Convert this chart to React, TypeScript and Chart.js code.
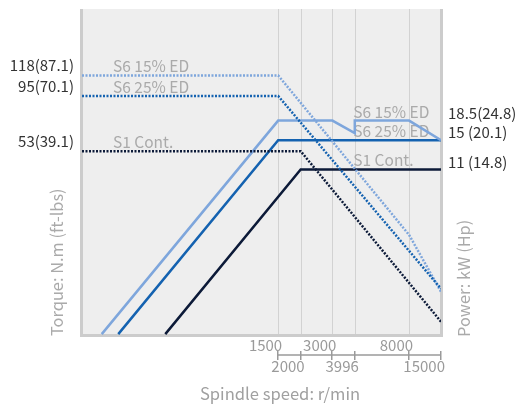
import React, { useEffect, useRef } from "react";
import { Chart, LinearScale, registerables } from "chart.js";

// ---------- data ----------
const upperSpeedTicks = [1500, 3000, 8000];
const lowerSpeedTicks = [2000, 3996, 15000];
const gridSpeeds = [1500, 2000, 3000, 3996, 8000];

const seriesNames = ["S6 15% ED", "S6 25% ED", "S1 Cont."];

// power (kW), solid lines
const s615PowerRpm = [157, 1500, 3000, 3996, 3996, 8000, 15000];
const s615PowerKw = [1.9, 18.5, 18.5, 16.2, 18.5, 18.5, 15];
const s625PowerRpm = [194, 1500, 15000];
const s625PowerKw = [1.9, 15, 15];
const s1PowerRpm = [354, 2000, 15000];
const s1PowerKw = [1.9, 11, 11];

// torque (N.m), dotted lines
const s615TorqueRpm = [122, 1500, 8000, 15000];
const s615TorqueNm = [118, 118, 21.9, 12.0];
const s625TorqueRpm = [122, 1500, 15000];
const s625TorqueNm = [95, 95, 12.4];
const s1TorqueRpm = [122, 2000, 15000];
const s1TorqueNm = [53, 53, 8.75];

const torqueMarks = [118, 95, 53];
const torqueLabels = ["118(87.1)", "95(70.1)", "53(39.1)"];
const powerMarks = [18.5, 15, 11];
const powerLabels = ["18.5(24.8)", "15 (20.1)", "11 (14.8)"];

// ---------- styling ----------
const COLORS = ["#7ea6dc", "#1462b0", "#0c1a38"];
const FONT = '"Noto Sans CJK SC", "Noto Sans", sans-serif';

// compressed log scale (the segment above 8000 r/min is squeezed)
const KNEE = 8000;
const SQUEEZE = 0.65;
function warp(v: number) {
  const l = Math.log10(Math.max(v, 1e-9));
  const k = Math.log10(KNEE);
  return l <= k ? l : k + (l - k) * SQUEEZE;
}
function unwarp(w: number) {
  const k = Math.log10(KNEE);
  return w <= k ? Math.pow(10, w) : Math.pow(10, k + (w - k) / SQUEEZE);
}

class WarpLogScale extends LinearScale {
  static id = "warplog";
  static defaults = LinearScale.defaults;
  getPixelForValue(value: number) {
    const a = warp(this.min);
    const b = warp(this.max);
    return this.getPixelForDecimal((warp(value) - a) / (b - a));
  }
  getValueForPixel(pixel: number) {
    const a = warp(this.min);
    const b = warp(this.max);
    return unwarp(a + this.getDecimalForPixel(pixel) * (b - a));
  }
}

Chart.register(...registerables, WarpLogScale as any);

const zip = (xs: number[], ys: number[]) => xs.map((x, i) => ({ x, y: ys[i] }));

const decor = {
  id: "decor",
  beforeDraw(chart: any) {
    const { ctx, chartArea: a } = chart;
    const xs = chart.scales.x;
    ctx.save();
    ctx.fillStyle = "#eeeeee";
    ctx.fillRect(a.left, a.top, a.right - a.left, a.bottom - a.top);
    // grid lines
    ctx.strokeStyle = "#d2d2d2";
    ctx.lineWidth = 1;
    gridSpeeds.forEach((s) => {
      const x = Math.round(xs.getPixelForValue(s)) + 0.5;
      ctx.beginPath();
      ctx.moveTo(x, a.top);
      ctx.lineTo(x, a.bottom);
      ctx.stroke();
    });
    // borders
    ctx.fillStyle = "#cccccc";
    ctx.fillRect(a.left - 2, a.top, 3, a.bottom - a.top + 2);
    ctx.fillRect(a.right - 1, a.top, 3, a.bottom - a.top + 2);
    ctx.fillRect(a.left - 2, a.bottom - 1, a.right - a.left + 4, 3);
    ctx.restore();
  },
  beforeDatasetsDraw(chart: any) {
    const { ctx, chartArea: a } = chart;
    const xs = chart.scales.x;
    const yT = chart.scales.yT;
    const yP = chart.scales.yP;
    ctx.save();
    ctx.font = `15.5px ${FONT}`;
    ctx.fillStyle = "#aaaaaa";
    ctx.textBaseline = "middle";
    ctx.textAlign = "left";
    seriesNames.forEach((n, i) => {
      ctx.fillText(n, a.left + 31, yT.getPixelForValue(torqueMarks[i]) - 9);
      ctx.fillText(n, xs.getPixelForValue(3996) - 1.5, yP.getPixelForValue(powerMarks[i]) - 9);
    });
    ctx.restore();
  },
  afterDraw(chart: any) {
    const { ctx, chartArea: a } = chart;
    const xs = chart.scales.x;
    const yT = chart.scales.yT;
    const yP = chart.scales.yP;
    ctx.save();
    // value labels
    ctx.font = `15px ${FONT}`;
    ctx.fillStyle = "#333333";
    ctx.textBaseline = "middle";
    ctx.textAlign = "right";
    torqueLabels.forEach((t, i) => {
      ctx.fillText(t, a.left - 8, yT.getPixelForValue(torqueMarks[i]) - 10);
    });
    ctx.textAlign = "left";
    powerLabels.forEach((t, i) => {
      ctx.fillText(t, a.right + 7, yP.getPixelForValue(powerMarks[i]) - 7.5);
    });
    // speed axis
    const axisY = a.bottom + 20;
    const x0 = xs.getPixelForValue(1500);
    const x1 = xs.getPixelForValue(15000);
    ctx.strokeStyle = "#9a9a9a";
    ctx.lineWidth = 1.5;
    ctx.beginPath();
    ctx.moveTo(x0, axisY);
    ctx.lineTo(x1, axisY);
    [...upperSpeedTicks, ...lowerSpeedTicks].forEach((s) => {
      const x = Math.round(xs.getPixelForValue(s)) - 0.25;
      ctx.moveTo(x, axisY - 4);
      ctx.lineTo(x, axisY + 5);
    });
    ctx.stroke();
    ctx.font = `15px ${FONT}`;
    ctx.fillStyle = "#9a9a9a";
    ctx.textAlign = "right";
    ctx.textBaseline = "middle";
    upperSpeedTicks.forEach((s) => {
      ctx.fillText(String(s), xs.getPixelForValue(s) + 4, axisY - 10);
    });
    lowerSpeedTicks.forEach((s) => {
      ctx.fillText(String(s), xs.getPixelForValue(s) + 4, axisY + 11.5);
    });
    // axis titles
    ctx.font = `16.6px ${FONT}`;
    ctx.fillStyle = "#a0a0a0";
    ctx.textAlign = "center";
    ctx.fillText("Spindle speed: r/min", 280, a.bottom + 59);
    ctx.font = `16.4px ${FONT}`;
    ctx.fillStyle = "#aaaaaa";
    ctx.textAlign = "left";
    ctx.save();
    ctx.translate(57, a.bottom + 1);
    ctx.rotate(-Math.PI / 2);
    ctx.fillText("Torque: N.m (ft-lbs)", 0, 0);
    ctx.restore();
    ctx.save();
    ctx.translate(a.right + 23, a.bottom + 2);
    ctx.rotate(-Math.PI / 2);
    ctx.fillText("Power: kW (Hp)", 0, 0);
    ctx.restore();
    ctx.restore();
  },
};

export default function App() {
  const ref = useRef<HTMLCanvasElement | null>(null);
  useEffect(() => {
    if (!ref.current) return;
    const dotted = (data: any[], c: string) => ({
      data,
      yAxisID: "yT",
      borderColor: c,
      borderWidth: 2.5,
      borderDash: [2, 1.5],
      pointRadius: 0,
      fill: false,
      tension: 0,
    });
    const solid = (data: any[], c: string) => ({
      data,
      yAxisID: "yP",
      borderColor: c,
      borderWidth: 2.5,
      pointRadius: 0,
      fill: false,
      tension: 0,
    });
    const chart = new Chart(ref.current, {
      type: "line",
      data: {
        datasets: [
          dotted(zip(s1TorqueRpm, s1TorqueNm), COLORS[2]),
          dotted(zip(s625TorqueRpm, s625TorqueNm), COLORS[1]),
          dotted(zip(s615TorqueRpm, s615TorqueNm), COLORS[0]),
          solid(zip(s615PowerRpm, s615PowerKw), COLORS[0]),
          solid(zip(s625PowerRpm, s625PowerKw), COLORS[1]),
          solid(zip(s1PowerRpm, s1PowerKw), COLORS[2]),
        ] as any,
      },
      options: {
        animation: false,
        responsive: false,
        layout: { padding: { left: 82, right: 75, top: 9, bottom: 70 } },
        plugins: { legend: { display: false }, tooltip: { enabled: false } },
        scales: {
          x: { type: "warplog" as any, min: 122, max: 15000, bounds: "data", display: false },
          yT: { type: "logarithmic", position: "left", min: 7.6, max: 238, bounds: "data", display: false },
          yP: { type: "logarithmic", position: "right", min: 1.882, max: 60.8, bounds: "data", display: false },
        },
      } as any,
      plugins: [decor],
    });
    return () => chart.destroy();
  }, []);
  return (
    <div style={{ position: "absolute", left: 0, top: 0, width: 516, height: 405 }}>
      <canvas ref={ref} width={516} height={405} />
    </div>
  );
}
